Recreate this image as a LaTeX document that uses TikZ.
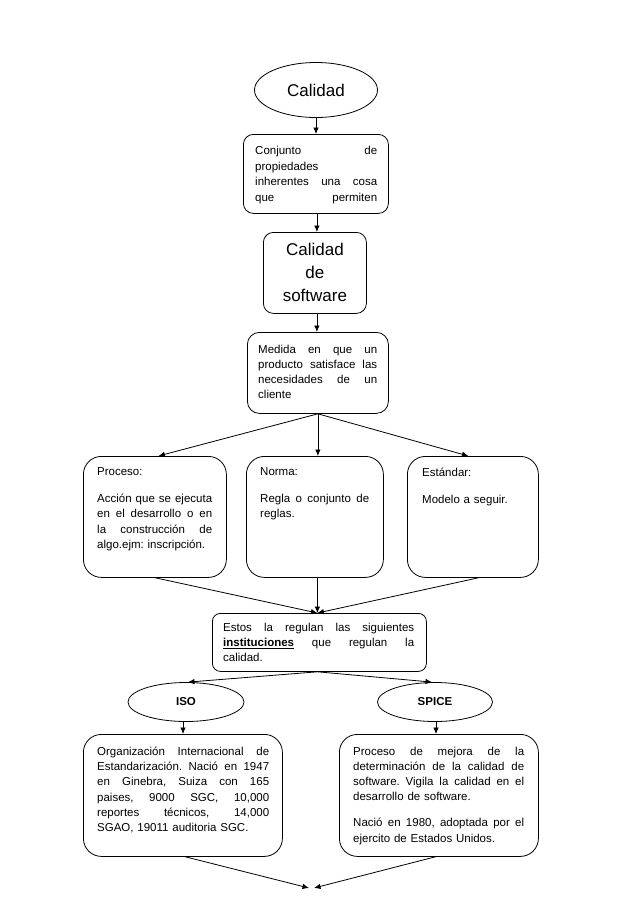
\documentclass[tikz,border=0pt]{standalone}
\usepackage{fontspec}
\setmainfont{Liberation Sans}
\usetikzlibrary{shapes.geometric,arrows.meta,calc}
\setlength\parindent{0pt}
\frenchspacing
\newlength\jw
\newcommand{\jl}[1]{\leavevmode\hbox to \jw{\spaceskip=0.278em plus 3em minus 0.05em\relax #1}}
\begin{document}
\begin{tikzpicture}[x=1pt,y=-1pt,
  boxr/.style={draw, line width=0.8pt, rounded corners=#1, inner sep=0pt, anchor=north west},
  oval/.style={draw, ellipse, line width=0.8pt, inner sep=0pt},
  txt/.style={anchor=north west, inner sep=0pt, align=left, text width=#1, font=\fontsize{11.5}{15.3}\selectfont},
  arr/.style={-{Latex[length=6.5pt,width=5.5pt]}, line width=0.8pt}]
\fill[white] (0,0) rectangle (638,903);
\useasboundingbox (0,0) rectangle (638,903);

% shapes
\node[oval, minimum width=123pt, minimum height=55pt, font=\fontsize{17}{20}\selectfont] (cal) at (316,90) {Calidad};
\node[boxr=10pt, minimum width=145pt, minimum height=79pt] (conj) at (243,134) {};
\node[boxr=10pt, minimum width=103pt, minimum height=81pt] (csw) at (263,232) {};
\node[boxr=12pt, minimum width=141pt, minimum height=81pt] (med) at (247,332) {};
\node[boxr=18pt, minimum width=143pt, minimum height=121pt] (proc) at (83,456) {};
\node[boxr=18pt, minimum width=137pt, minimum height=121pt] (norm) at (246,456) {};
\node[boxr=18pt, minimum width=131pt, minimum height=121pt] (est) at (407,456) {};
\node[boxr=8pt, minimum width=214pt, minimum height=58pt] (estos) at (212,613) {};
\node[oval, minimum width=116pt, minimum height=39pt, font=\fontsize{11.5}{14}\selectfont\bfseries] (iso) at (186,702) {ISO};
\node[oval, minimum width=115pt, minimum height=39pt, font=\fontsize{11.5}{14}\selectfont\bfseries] (spice) at (435,702) {SPICE};
\node[boxr=18pt, minimum width=199pt, minimum height=122pt] (isob) at (83,734) {};
\node[boxr=18pt, minimum width=199pt, minimum height=122pt] (spiceb) at (339,734) {};
\coordinate (endL) at (309,888);
\coordinate (endR) at (314,888);

% texts
\node[txt=122pt, font=\fontsize{11.5}{15.7}\selectfont] (tconj) at (255,146) {\setlength\jw{122pt}\jl{Conjunto de}\\propiedades\\\jl{inherentes una cosa}\\\jl{que permiten}};
\node[align=center, inner sep=0pt, font=\fontsize{17}{23}\selectfont] (tcsw) at (csw.center) {Calidad\\de\\software};
\node[txt=119pt] (tmed) at (258,344.5) {\setlength\jw{119pt}\jl{Medida en que un}\\\jl{producto satisface las}\\\jl{necesidades de un}\\cliente};
\node[txt=115pt] (tproc) at (97,467.5) {\setlength\jw{115pt}Proceso:\\[11.7pt]\jl{Acción que se ejecuta}\\\jl{en el desarrollo o en}\\\jl{la construcción de}\\algo.ejm: inscripción.};
\node[txt=109pt] (tnorm) at (260,467.5) {\setlength\jw{109pt}Norma:\\[11.7pt]\jl{Regla o conjunto de}\\reglas.};
\node[txt=109pt] (test) at (422,467.5) {Estándar:\\[11.7pt]Modelo a seguir.};
\node[txt=191pt] (testos) at (223,622.5) {\setlength\jw{191pt}\jl{Estos la regulan las siguientes}\\\jl{\underline{\textbf{instituciones}} que regulan la}\\calidad.};
\node[txt=172pt] (tiso) at (97,746.5) {\setlength\jw{172pt}\jl{Organización Internacional de}\\\jl{Estandarización. Nació en 1947}\\\jl{en Ginebra, Suiza con 165}\\\jl{paises, 9000 SGC, 10,000}\\\jl{reportes técnicos, 14,000}\\SGAO, 19011 auditoria SGC.};
\node[txt=171pt] (tspice) at (353,746.5) {\setlength\jw{171pt}\jl{Proceso de mejora de la}\\\jl{determinación de la calidad de}\\\jl{software. Vigila la calidad en el}\\desarrollo de software.\\[10.7pt]\jl{Nació en 1980, adoptada por el}\\ejercito de Estados Unidos.};

% connectors
\draw[arr] (cal.south) -- (cal.south |- conj.north);
\draw[arr] ([xshift=1pt]conj.south) -- ([xshift=1pt]conj.south |- csw.north);
\draw[arr] ([xshift=2pt]csw.south) -- ([xshift=2pt]csw.south |- med.north);
\draw[arr] (med.south) -- ([xshift=3.5pt]proc.north);
\draw[arr] (med.south) -- (med.south |- norm.north);
\draw[arr] (med.south) -- ([xshift=-4.5pt]est.north);
\draw[arr] ([xshift=0.5pt]proc.south) -- ([xshift=-2pt]estos.north);
\draw[arr] ([xshift=2.5pt]norm.south) -- ([xshift=2.5pt]norm.south |- estos.north);
\draw[arr] ([xshift=5.5pt]est.south) -- ([xshift=-2pt]estos.north);
\draw[arr] ([xshift=-2pt]estos.south) -- ([xshift=2pt]iso.north);
\draw[arr] ([xshift=-2pt]estos.south) -- ([xshift=-3pt]spice.north);
\draw[arr] ([xshift=-3pt]iso.south) -- ([xshift=-3pt]iso.south |- isob.north);
\draw[arr] ([xshift=1pt]spice.south) -- ([xshift=1pt]spice.south |- spiceb.north);
\draw[arr] ([xshift=2.5pt]isob.south) -- (endL);
\draw[arr] ([xshift=-3.5pt]spiceb.south) -- (endR);
\end{tikzpicture}
\end{document}
